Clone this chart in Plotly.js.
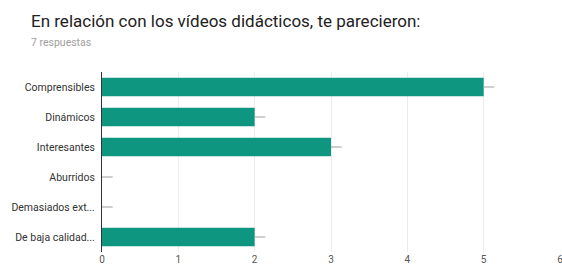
<!DOCTYPE html>
<html>
<head>
<meta charset="utf-8">
<script src="https://cdn.plot.ly/plotly-3.0.1.min.js"></script>
<style>
html,body{margin:0;padding:0;background:#fff;}
#chart{width:562px;height:267px;}
</style>
</head>
<body>
<div id="chart"></div>
<script>
const categories = ["Comprensibles", "Dinámicos", "Interesantes", "Aburridos", "Demasiados ext...", "De baja calidad..."];
const counts = [5, 2, 3, 0, 0, 2];
const xTicks = [0, 1, 2, 3, 4, 5, 6];
const chartTitle = "En relación con los vídeos didácticos, te parecieron:";
const subtitle = "7 respuestas";

const trace = {
  type: 'bar',
  orientation: 'h',
  y: categories,
  x: counts,
  marker: {color: '#0f9680'},
  error_x: {type: 'constant', value: 0.14, valueminus: 0, symmetric: false, width: 0, thickness: 1, color: '#9e9e9e'},
  hoverinfo: 'x+y'
};

const layout = {
  width: 562, height: 267,
  margin: {l: 102, r: 2, t: 72, b: 15},
  paper_bgcolor: '#fff', plot_bgcolor: '#fff',
  font: {family: 'Roboto, Arial, sans-serif', size: 10.5, color: '#444'},
  bargap: 0.38,
  showlegend: false,
  xaxis: {
    range: [0, 6], tickvals: xTicks, ticktext: xTicks.map(String),
    showgrid: true, gridcolor: '#ececec', zeroline: false, showline: false,
    ticks: '', ticklabelstandoff: 0, ticklabeloverflow: 'allow',
    tickfont: {size: 10, color: '#555'}, fixedrange: true
  },
  yaxis: {
    type: 'category', categoryorder: 'array', categoryarray: categories,
    autorange: 'reversed', showgrid: false, zeroline: false,
    showline: true, linecolor: '#333', linewidth: 1,
    ticks: '', ticklabelstandoff: 4, tickfont: {size: 10.5, color: '#333'}, fixedrange: true
  },
  annotations: [
    {text: chartTitle, xref: 'paper', yref: 'paper', x: 0, y: 0, xanchor: 'left', yanchor: 'middle', showarrow: false,
     font: {family: 'Roboto, Arial, sans-serif', size: 17, color: '#222'}},
    {text: subtitle, xref: 'paper', yref: 'paper', x: 0, y: 0, xanchor: 'left', yanchor: 'middle', showarrow: false,
     font: {family: 'Roboto, Arial, sans-serif', size: 10.5, color: '#9e9e9e'}}
  ]
};
// position title/subtitle in pixel terms relative to plot area
const plotH = layout.height - layout.margin.t - layout.margin.b;
const plotW = layout.width - layout.margin.l - layout.margin.r;
layout.annotations[0].x = (29 - layout.margin.l) / plotW;
layout.annotations[0].y = (layout.height - layout.margin.b - 21) / plotH;
layout.annotations[1].x = (29 - layout.margin.l) / plotW;
layout.annotations[1].y = (layout.height - layout.margin.b - 43) / plotH;

Plotly.newPlot('chart', [trace], layout, {displayModeBar: false, staticPlot: true});
</script>
</body>
</html>
